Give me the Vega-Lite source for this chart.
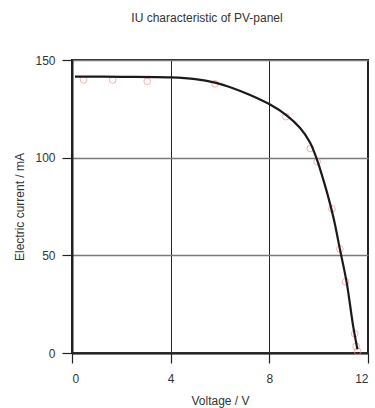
{
  "$schema": "https://vega.github.io/schema/vega-lite/v6.json",
  "width": 296,
  "height": 293,
  "autosize": {"type": "none"},
  "padding": {"left": 72, "top": 60, "right": 7, "bottom": 55},
  "title": {
    "text": "IU characteristic of PV-panel",
    "fontSize": 12,
    "fontWeight": "normal",
    "font": "Liberation Sans",
    "color": "#333333",
    "anchor": "middle",
    "dx": -13,
    "offset": 29
  },
  "config": {
    "font": "Liberation Sans",
    "view": {"stroke": "#222222", "strokeWidth": 2},
    "axis": {
      "domainColor": "#222222",
      "domainWidth": 2,
      "tickColor": "#222222",
      "tickWidth": 1.2,
      "tickSize": 10,
      "labelFont": "Liberation Sans",
      "labelFontSize": 12,
      "labelColor": "#333333",
      "titleFont": "Liberation Sans",
      "titleFontSize": 12,
      "titleFontWeight": "normal",
      "titleColor": "#333333"
    }
  },
  "datasets": {
    "measured": [
      {"voltage": 0.47, "current": 139.8},
      {"voltage": 1.65, "current": 139.8},
      {"voltage": 3.05, "current": 139.1},
      {"voltage": 5.8, "current": 137.8},
      {"voltage": 8.67, "current": 121.0},
      {"voltage": 9.66, "current": 104.7},
      {"voltage": 9.94, "current": 98.0},
      {"voltage": 10.54, "current": 73.8},
      {"voltage": 10.86, "current": 53.3},
      {"voltage": 11.09, "current": 36.5},
      {"voltage": 11.46, "current": 9.9},
      {"voltage": 11.52, "current": 3.4},
      {"voltage": 11.58, "current": 0.8}
    ],
    "fit": [
      {"voltage": 0.12, "current": 141.5},
      {"voltage": 2.0, "current": 141.4},
      {"voltage": 4.0, "current": 141.1},
      {"voltage": 5.0, "current": 140.2},
      {"voltage": 5.8, "current": 138.4},
      {"voltage": 6.5, "current": 135.7},
      {"voltage": 7.22, "current": 132.1},
      {"voltage": 8.03, "current": 127.2},
      {"voltage": 8.7, "current": 121.7},
      {"voltage": 9.24, "current": 115.3},
      {"voltage": 9.65, "current": 107.8},
      {"voltage": 9.85, "current": 101.8},
      {"voltage": 9.98, "current": 97.2},
      {"voltage": 10.19, "current": 88.6},
      {"voltage": 10.39, "current": 79.8},
      {"voltage": 10.62, "current": 68.2},
      {"voltage": 10.86, "current": 53.2},
      {"voltage": 11.14, "current": 35.8},
      {"voltage": 11.4, "current": 13.6},
      {"voltage": 11.57, "current": 2.0}
    ]
  },
  "layer": [
    {
      "data": {"name": "measured"},
      "mark": {"type": "point", "shape": "circle", "filled": false, "color": "#f29090", "strokeWidth": 1, "size": 45},
      "encoding": {
        "x": {
          "field": "voltage",
          "type": "quantitative",
          "scale": {"domain": [0, 12], "nice": false, "zero": false},
          "axis": {
            "title": "Voltage / V",
            "values": [0, 4, 8, 12],
            "labelPadding": 10,
            "titlePadding": 11,
            "grid": true,
            "gridColor": "#222222",
            "gridWidth": 1,
            "gridOpacity": 1
          }
        },
        "y": {
          "field": "current",
          "type": "quantitative",
          "scale": {"domain": [0, 150], "nice": false, "zero": false},
          "axis": {
            "title": "Electric current / mA",
            "values": [0, 50, 100, 150],
            "labelPadding": 7,
            "titlePadding": 8,
            "grid": true,
            "gridColor": "#7a7a7a",
            "gridWidth": 1.5,
            "gridOpacity": 1
          }
        }
      }
    },
    {
      "data": {"name": "fit"},
      "mark": {"type": "line", "color": "#1a1a1a", "strokeWidth": 2.2, "interpolate": "catmull-rom"},
      "encoding": {
        "x": {"field": "voltage", "type": "quantitative"},
        "y": {"field": "current", "type": "quantitative"}
      }
    }
  ]
}
